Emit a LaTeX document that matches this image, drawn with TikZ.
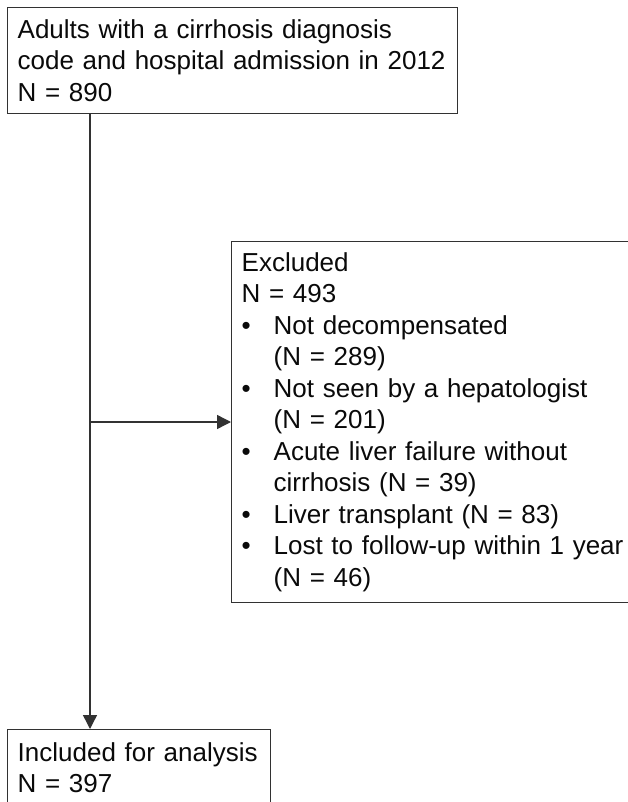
\documentclass[tikz,border=0pt]{standalone}
\usepackage{fontspec}
\setmainfont{Liberation Sans}
\usetikzlibrary{arrows.meta}
\definecolor{linegray}{RGB}{50,50,50}
\definecolor{txt}{RGB}{10,10,10}
\newcommand{\bul}{\makebox[32pt][l]{\textbullet}}
\newcommand{\ind}{\hspace*{32pt}}
\tikzset{
  box/.style={draw=linegray, line width=1.4pt, anchor=north west, inner xsep=10pt, inner ysep=0pt,
    align=left, text=txt, font=\fontsize{26}{31.5}\selectfont},
  conn/.style={draw=linegray, line width=1.4pt},
  arr/.style={conn, -{Triangle[length=14pt,width=14pt]}}
}
\begin{document}
\begin{tikzpicture}[x=1pt,y=1pt]
\useasboundingbox (0,0) rectangle (628,-802);
\clip (0,0) rectangle (628,-802);
\fill[white] (0,0) rectangle (628,-802);
\node[box, text width=430pt, minimum height=106pt] (top) at (7,-7)
  {Adults with a cirrhosis diagnosis\\code and hospital admission in 2012\\N = 890};
\node[box, text width=420pt, minimum height=361pt] (excl) at (231,-241)
  {Excluded\\N = 493\\
   \bul Not decompensated\\\ind(N = 289)\\
   \bul Not seen by a hepatologist\\\ind(N = 201)\\
   \bul Acute liver failure without\\\ind cirrhosis (N = 39)\\
   \bul Liver transplant (N = 83)\\
   \bul Lost to follow-up within 1 year\\\ind(N = 46)};
\node[box, text width=243pt, minimum height=76pt] (incl) at (7,-729)
  {Included for analysis\\N = 397};
\coordinate (branch) at (90,-422);
\draw[arr] (top.south -| branch) -- (incl.north -| branch);
\draw[arr] (branch) -- (excl.west |- branch);
\end{tikzpicture}
\end{document}
